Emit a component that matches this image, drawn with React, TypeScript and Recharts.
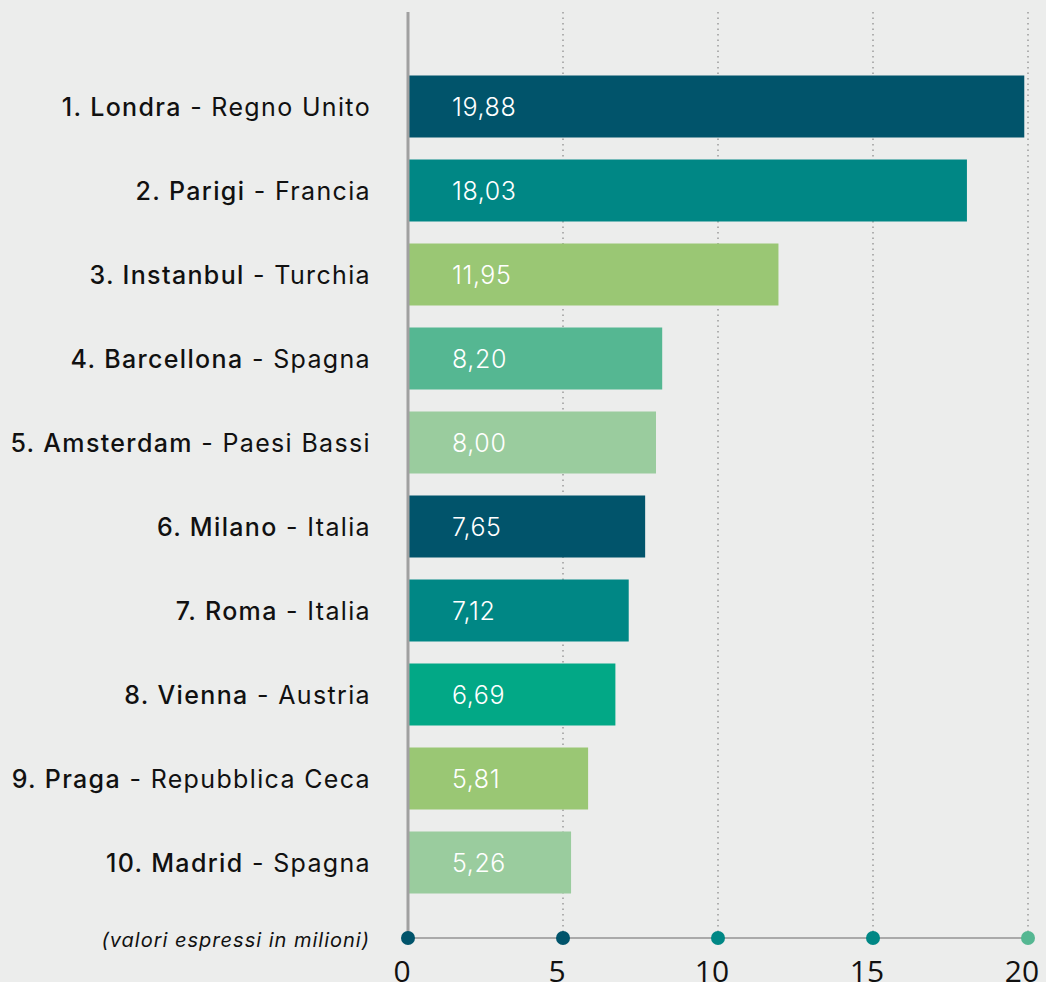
import React from 'react';
import { BarChart, Bar, XAxis, YAxis, CartesianGrid, Cell, LabelList } from 'recharts';

const cities = ['Londra', 'Parigi', 'Instanbul', 'Barcellona', 'Amsterdam', 'Milano', 'Roma', 'Vienna', 'Praga', 'Madrid'];
const countries = ['Regno Unito', 'Francia', 'Turchia', 'Spagna', 'Paesi Bassi', 'Italia', 'Italia', 'Austria', 'Repubblica Ceca', 'Spagna'];
const visitors = [19.88, 18.03, 11.95, 8.2, 8.0, 7.65, 7.12, 6.69, 5.81, 5.26];
const barColors = ['#01546B', '#008785', '#9AC774', '#55B792', '#9ACC9E', '#01546B', '#008785', '#02A886', '#9AC774', '#9ACC9E'];
const xTicks = [0, 5, 10, 15, 20];
const tickDotColors = ['#01546B', '#01546B', '#008785', '#008785', '#55B792'];
const noteText = '(valori espressi in milioni)';

const data = cities.map((c, i) => ({ name: c, value: visitors[i] }));

const FONT = 'Inter, "Open Sans", sans-serif';

const CategoryTick = (props: any) => {
  const { x, y, payload } = props;
  const i = cities.indexOf(payload.value);
  return (
    <text x={x - 37} y={y} textAnchor="end" dominantBaseline="central" fontFamily={FONT} fontSize={25} fill="#111" letterSpacing={1.35}>
      <tspan fontWeight={500}>{`${i + 1}. ${cities[i]}`}</tspan>
      <tspan fontWeight={400}>{` - ${countries[i]}`}</tspan>
    </text>
  );
};

const ValueTick = (props: any) => {
  const { x, y, payload, index } = props;
  const idx = typeof index === 'number' ? index : xTicks.indexOf(payload.value);
  return (
    <g>
      <circle cx={x} cy={y} r={7} fill={tickDotColors[idx] || '#01546B'} />
      <text x={x - 6} y={y + 32} textAnchor="middle" dominantBaseline="central" fontFamily='"Open Sans", sans-serif' fontSize={30} fill="#111">
        {payload.value}
      </text>
    </g>
  );
};

const ValueLabel = (props: any) => {
  const { x, y, height, value } = props;
  return (
    <text x={x + 44} y={y + height / 2} dominantBaseline="central" fontFamily={FONT} fontSize={25} fontWeight={300} fill="#fff" letterSpacing={0.6}>
      {Number(value).toFixed(2).replace('.', ',')}
    </text>
  );
};

export default function App() {
  return (
    <div style={{ position: 'absolute', left: 0, top: 0, width: 1046, height: 982, background: '#ECEDEC' }}>
      <BarChart
        width={1046}
        height={982}
        data={data}
        layout="vertical"
        margin={{ top: 12, right: 18, bottom: 0, left: 0 }}
      >
        <CartesianGrid horizontal={false} vertical={true} stroke="#9a9a9a" strokeWidth={1.5} strokeDasharray="1.5 4" />
        <XAxis
          type="number"
          domain={[0, 20]}
          ticks={xTicks}
          height={44}
          axisLine={{ stroke: '#aaaaaa', strokeWidth: 2 }}
          tickLine={false}
          tickSize={0}
          tickMargin={0}
          tick={<ValueTick />}
          interval={0}
        />
        <YAxis
          type="category"
          dataKey="name"
          width={408}
          axisLine={{ stroke: '#a0a0a0', strokeWidth: 3 }}
          tickLine={false}
          tickSize={0}
          tickMargin={0}
          tick={<CategoryTick />}
          padding={{ top: 52.5, bottom: 33.5 }}
          interval={0}
        />
        <Bar dataKey="value" barSize={62} isAnimationActive={false}>
          {data.map((d, i) => (
            <Cell key={d.name} fill={barColors[i]} />
          ))}
          <LabelList dataKey="value" content={<ValueLabel />} />
        </Bar>
      </BarChart>
      <div
        style={{
          position: 'absolute',
          right: 1046 - 370,
          top: 928,
          fontFamily: FONT,
          fontStyle: 'italic',
          fontSize: 20,
          letterSpacing: 1.0,
          color: '#111',
          whiteSpace: 'nowrap',
          lineHeight: '24px',
        }}
      >
        {noteText}
      </div>
    </div>
  );
}
